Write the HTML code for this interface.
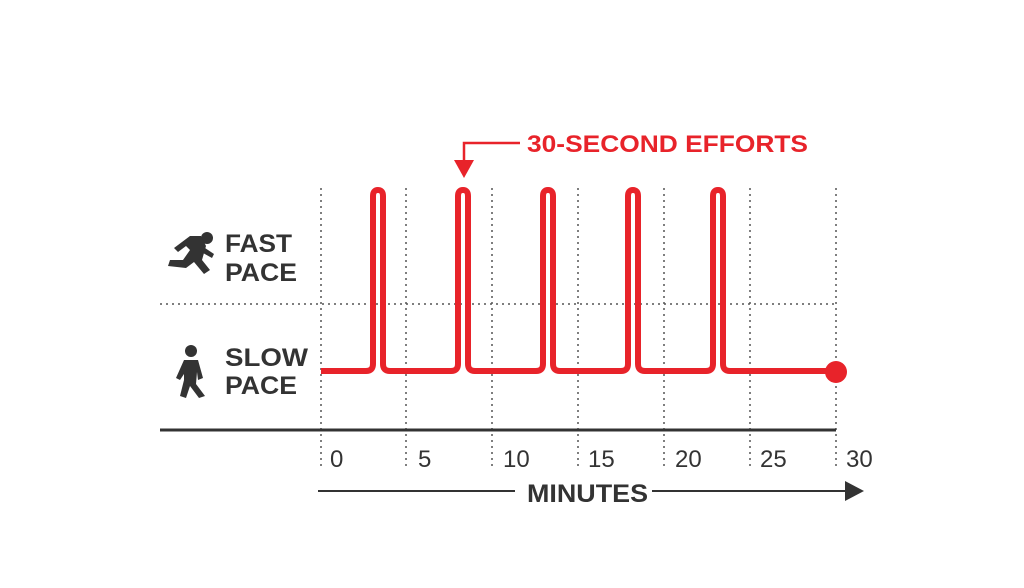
<!DOCTYPE html>
<html><head><style>body{margin:0;background:#fff}svg{display:block}</style></head><body>
<svg width="1024" height="588" viewBox="0 0 1024 588" xmlns="http://www.w3.org/2000/svg" font-family="Liberation Sans, sans-serif">
<g stroke="#555" stroke-width="1.5" stroke-dasharray="2,4">
<line x1="321" y1="188" x2="321" y2="466"/><line x1="406" y1="188" x2="406" y2="466"/><line x1="492" y1="188" x2="492" y2="466"/><line x1="578" y1="188" x2="578" y2="466"/><line x1="664" y1="188" x2="664" y2="466"/><line x1="750" y1="188" x2="750" y2="466"/><line x1="836" y1="188" x2="836" y2="466"/>
<line x1="160" y1="304" x2="836" y2="304"/>
</g>
<line x1="160" y1="430" x2="836" y2="430" stroke="#333" stroke-width="3"/>
<path d="M321 371 H366 Q373 371 373 364 V196 Q373 190 378 190 Q383 190 383 196 V364 Q383 371 390 371 H451 Q458 371 458 364 V196 Q458 190 463 190 Q468 190 468 196 V364 Q468 371 475 371 H536 Q543 371 543 364 V196 Q543 190 548 190 Q553 190 553 196 V364 Q553 371 560 371 H621 Q628 371 628 364 V196 Q628 190 633 190 Q638 190 638 196 V364 Q638 371 645 371 H706 Q713 371 713 364 V196 Q713 190 718 190 Q723 190 723 196 V364 Q723 371 730 371 H836" fill="none" stroke="#e8232a" stroke-width="6" stroke-linejoin="round"/>
<circle cx="836" cy="372" r="11" fill="#e8232a"/>
<path d="M520 143 H464 V162" fill="none" stroke="#e8232a" stroke-width="2.5"/>
<polygon points="454,160 474,160 464,178" fill="#e8232a"/>
<text x="527" y="152" fill="#e8232a" font-size="24" font-weight="bold" textLength="281" lengthAdjust="spacingAndGlyphs">30-SECOND EFFORTS</text>
<g fill="#333" font-size="25" font-weight="bold">
<text x="225" y="252" textLength="67" lengthAdjust="spacingAndGlyphs">FAST</text><text x="225" y="281" textLength="72" lengthAdjust="spacingAndGlyphs">PACE</text>
<text x="225" y="366" textLength="83" lengthAdjust="spacingAndGlyphs">SLOW</text><text x="225" y="394" textLength="72" lengthAdjust="spacingAndGlyphs">PACE</text>
</g>
<g fill="#333" font-size="24">
<text x="330" y="467">0</text><text x="418" y="467">5</text><text x="503" y="467">10</text><text x="588" y="467">15</text><text x="675" y="467">20</text><text x="760" y="467">25</text><text x="846" y="467">30</text>
<text x="527" y="502" font-size="25" font-weight="bold" textLength="121" lengthAdjust="spacingAndGlyphs">MINUTES</text>
</g>
<line x1="318" y1="491" x2="515" y2="491" stroke="#333" stroke-width="2"/>
<line x1="652" y1="491" x2="848" y2="491" stroke="#333" stroke-width="2"/>
<polygon points="845,481 864,491 845,501" fill="#333"/>
<g fill="#333">
<circle cx="207" cy="238" r="6"/>
<path d="M190 236 L201 236 L206 246 L202 260 L210 270 L204 274 L194 262 L186 268 L168 266 L170 260 L183 260 L190 250 L186 246 L178 252 L174 248 Z"/>
<path d="M205 248 L214 254 L212 258 L203 253 Z"/>
<circle cx="191" cy="351" r="6"/>
<path d="M184 360 L198 360 L203 378 L198 380 L197 372 L196 384 L205 396 L199 398 L190 386 L186 398 L180 396 L184 380 L184 374 L180 380 L176 378 Z"/>
</g>
</svg>
</body></html>
